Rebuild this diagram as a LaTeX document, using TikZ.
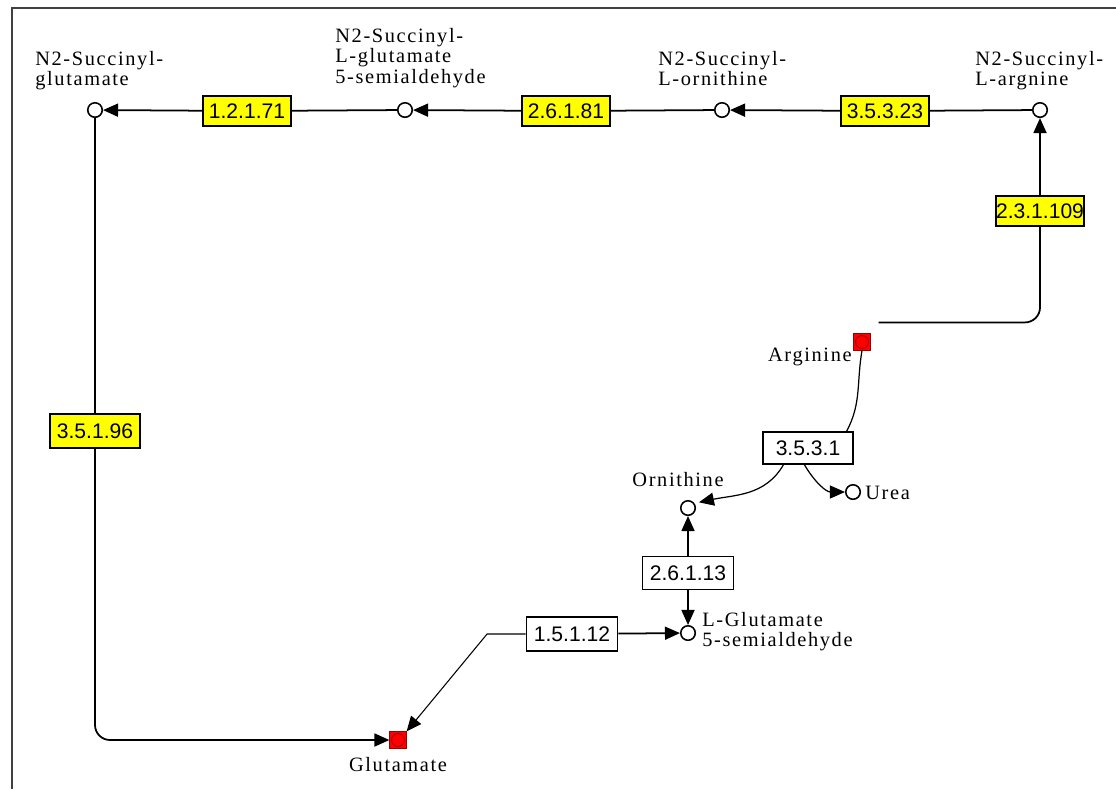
\documentclass[tikz,border=0pt]{standalone}
\usepackage{fontspec}
\usepackage{tikz}
\usetikzlibrary{arrows.meta,positioning}
\newfontfamily\cpdfont{Liberation Serif}[LetterSpace=8]
\newfontfamily\ecfont{Liberation Sans}
\definecolor{ECYellow}{HTML}{FFFF00}
\definecolor{CpdRed}{HTML}{FF0000}
\definecolor{FrameGray}{HTML}{404040}

\begin{document}
\begin{tikzpicture}[x=0.02cm, y=0.02cm,
  ec/.style={draw, line width=0.9pt, minimum width=1.76cm, minimum height=0.6cm,
             inner sep=0pt, font=\ecfont\fontsize{12}{12}\selectfont},
  ecy/.style={ec, fill=ECYellow},
  ecw/.style={ec, fill=white},
  cpd/.style={circle, draw, line width=0.9pt, fill=white, minimum size=0.29cm, inner sep=0pt},
  redcpd/.style={draw=CpdRed!60!black, fill=CpdRed, minimum size=0.33cm, inner sep=0pt,
                 path picture={\draw[fill=CpdRed, line width=0.5pt]
                   (path picture bounding box.center) circle (0.13cm);}},
  cname/.style={inner sep=0pt, align=left, font=\cpdfont\fontsize{11.6}{11.6}\selectfont},
  rxn/.style={line width=1pt},
  arr/.style={rxn, -{Triangle[length=0.3cm, width=0.26cm]}},
  bent/.style={rounded corners=0.3cm}
]
  \useasboundingbox (0,0) rectangle (1116,-789);
  % frame
  \draw[FrameGray, line width=1.2pt] (1116,-8) -- (12,-8) -- (12,-789);

  % compounds along the top
  \node[cpd] (sgl)  at (95,-110) {};
  \node[cpd] (sgsa) at (405,-110) {};
  \node[cpd] (sorn) at (722,-110) {};
  \node[cpd] (sarg) at (1040,-110) {};
  \node[cname, anchor=north west] (lsgl)  at (35,-51)  {N2-Succinyl-\\glutamate};
  \node[cname, anchor=north west] (lsgsa) at (335,-28) {N2-Succinyl-\\L-glutamate\\5-semialdehyde};
  \node[cname, anchor=north west] (lsorn) at (658,-51) {N2-Succinyl-\\L-ornithine};
  \node[cname, anchor=north west] (lsarg) at (975,-51) {N2-Succinyl-\\L-argnine};

  % other compounds
  \node[redcpd] (arg) at (862,-342) {};
  \node[redcpd] (glu) at (398,-740) {};
  \node[cpd] (orn)  at (688,-508) {};
  \node[cpd] (urea) at (853,-492) {};
  \node[cpd] (gsa)  at (688,-633) {};
  \node[cname, anchor=east]  (larg)  at (852,-357) {Arginine};
  \node[cname, anchor=west]  (lurea) at (865,-493) {Urea};
  \node[cname]               (lorn)  at (678,-480) {Ornithine};
  \node[cname]               (lglu)  at (398,-765) {Glutamate};
  \node[cname, anchor=north west] (lgsa) at (702,-612) {L-Glutamate\\5-semialdehyde};

  % enzymes
  \node[ecy] (e12171)  at (247,-111) {1.2.1.71};
  \node[ecy] (e26181)  at (566,-111) {2.6.1.81};
  \node[ecy] (e35323)  at (885,-111) {3.5.3.23};
  \node[ecy, minimum width=1.72cm] (e231109) at (1040,-211) {2.3.1.109};
  \node[ecy, minimum width=1.8cm, minimum height=0.68cm] (e35196) at (95,-431) {3.5.1.96};
  \node[ecw, minimum width=1.8cm, minimum height=0.64cm] (e3531)  at (808,-448) {3.5.3.1};
  \node[ecw, minimum width=1.82cm, minimum height=0.66cm] (e26113) at (688,-573) {2.6.1.13};
  \node[ecw, minimum width=1.82cm, minimum height=0.68cm] (e15112) at (572,-634) {1.5.1.12};

  % succinyl route
  \draw[rxn] (sarg) -- (e35323);
  \draw[arr] (e35323) -- (sorn);
  \draw[rxn] (sorn) -- (e26181);
  \draw[arr] (e26181) -- (sgsa);
  \draw[rxn] (sgsa) -- (e12171);
  \draw[arr] (e12171) -- (sgl);
  \draw[rxn] (sgl) -- (e35196);
  \draw[arr, bent] (e35196.south) |- (glu.west);
  \coordinate (argout) at ([shift={(8,11)}]arg.north east);
  \draw[rxn, bent] (argout) -| (e231109.south);
  \draw[arr] (e231109) -- (sarg);

  % arginase route
  \draw[rxn, line width=0.7pt] (arg.south) to[out=-100, in=62] ([xshift=22]e3531.north);
  \draw[arr, line width=0.7pt] ([xshift=-14]e3531.south) to[out=-120, in=12] ([xshift=3]orn.north east);
  \draw[arr, line width=0.7pt] ([xshift=-2]e3531.south) to[out=-60, in=180] (urea.west);
  \draw[arr] (e26113) -- (orn);
  \draw[arr] (e26113) -- (gsa);
  \draw[arr] (e15112) -- (gsa);
  \coordinate (bend) at ([xshift=-22]e15112.west);
  \draw[arr, line width=0.6pt] (e15112.west) -- (bend) -- (glu.north east);
\end{tikzpicture}
\end{document}
